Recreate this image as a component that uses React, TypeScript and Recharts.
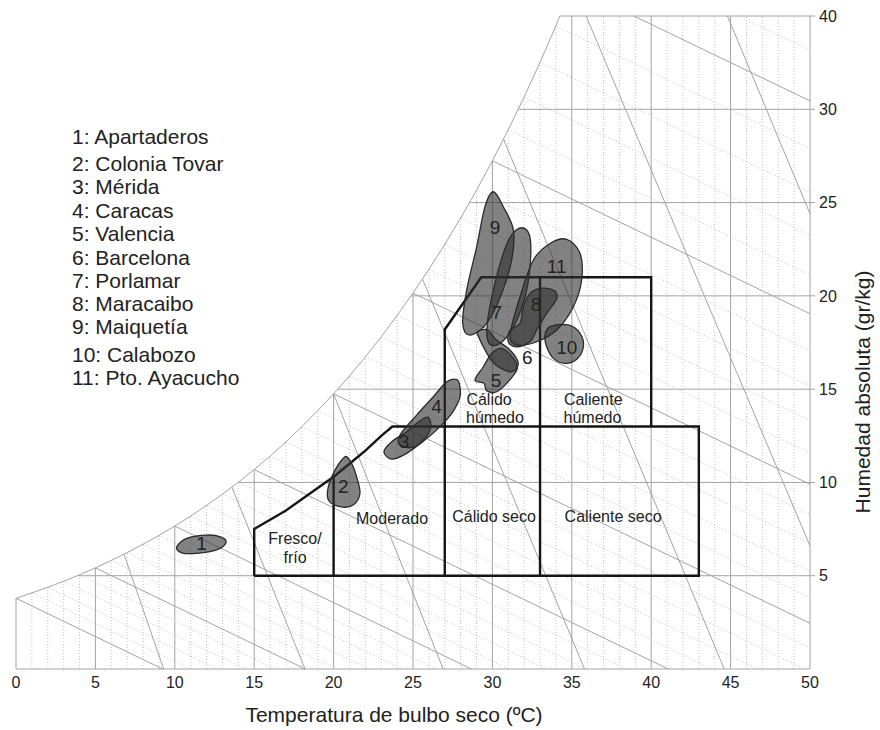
import React from 'react'
import { ComposedChart, XAxis, YAxis, Scatter, ReferenceLine } from 'recharts'

// Saturation curve (ºC -> g/kg)
const satTemps = [0, 1, 2, 3, 4, 5, 6, 7, 8, 9, 10, 11, 12, 13, 14, 15, 16, 17, 18, 19, 20, 21, 22, 23, 24, 25, 26, 27, 28, 29, 30, 31, 32, 33, 34, 35, 36]
const satHumidity = [3.79, 4.08, 4.38, 4.7, 5.05, 5.42, 5.82, 6.24, 6.69, 7.16, 7.66, 8.2, 8.77, 9.37, 10.01, 10.69, 11.41, 12.17, 12.99, 13.85, 14.75, 15.71, 16.73, 17.81, 18.95, 20.15, 21.42, 22.76, 24.17, 25.66, 27.24, 28.91, 30.66, 32.52, 34.47, 36.6, 38.9]

const xTicks = [0, 5, 10, 15, 20, 25, 30, 35, 40, 45, 50]
const yTicks = [5, 10, 15, 20, 25, 30, 35]
const yTickLabels = ['5', '10', '15', '20', '25', '30', '40']

// wet bulb lines drop about 0.41 g/kg per ºC
const wetBulbSlope = 0.41
const wetBulbTemps = [0, 1, 2, 3, 4, 5, 6, 7, 8, 9, 10, 11, 12, 13, 14, 15, 16, 17, 18, 19, 20, 21, 22, 23, 24, 25, 26, 27, 28, 29, 30, 31, 32, 33, 34, 35, 36]

// specific volume lines: [t1, h1, t2, h2]
const volumeLines = [
  [6.8, 6.15, 9.3, 0],
  [13.6, 9.75, 18.2, 0],
  [20.0, 14.75, 26.9, 0],
  [25.6, 20.9, 35.8, 0],
  [30.7, 28.4, 44.6, 0],
  [35.9, 35, 50, 6.6],
  [44.8, 35, 50, 24.4],
]

// comfort zones (black outlines)
const zoneOuter = [[15, 5], [15, 7.5], [16, 8.0], [17, 8.5], [18, 9.1], [19, 9.7], [20, 10.3], [21, 11.0], [22, 11.7], [23, 12.5], [23.7, 13.0], [43, 13], [43, 5], [15, 5]]
const zoneModerado = [[20, 5], [20, 10.3]]
const zoneCalido = [[27, 5], [27, 18.2], [29.3, 21], [40, 21], [40, 13]]
const zoneCaliente = [[33, 5], [33, 21]]

const zoneLabels = [
  { x: 23.68, y: 8.09, label: 'Moderado' },
  { x: 17.57, y: 6.97, label: 'Fresco/' },
  { x: 17.57, y: 6.0, label: 'frío' },
  { x: 30.1, y: 8.15, label: 'Cálido seco' },
  { x: 37.6, y: 8.15, label: 'Caliente seco' },
  { x: 29.79, y: 14.47, label: 'Cálido' },
  { x: 30.16, y: 13.5, label: 'húmedo' },
  { x: 36.35, y: 14.47, label: 'Caliente' },
  { x: 36.3, y: 13.5, label: 'húmedo' },
]

// climate areas of each city
const blob1 = [[10.12, 6.55], [10.75, 7.0], [12.01, 7.18], [12.95, 7.06], [13.22, 6.77], [12.64, 6.38], [11.38, 6.2], [10.43, 6.23]]
const blob2 = [[20.82, 11.38], [21.2, 10.9], [21.45, 10.3], [21.66, 9.42], [21.24, 8.79], [20.4, 8.7], [19.67, 9.06], [19.67, 9.77], [20.09, 10.66], [20.51, 11.2]]
const blob3 = [[25.96, 13.49], [26.11, 12.9], [25.55, 12.18], [24.6, 11.56], [23.66, 11.25], [23.17, 11.65], [23.66, 12.18], [24.6, 12.72], [25.44, 13.31]]
const blob4 = [[27.33, 15.49], [27.85, 15.45], [27.96, 14.59], [27.44, 13.7], [26.7, 12.99], [25.86, 12.35], [25.02, 11.88], [24.18, 12.0], [24.18, 12.54], [25.23, 13.61], [26.28, 14.59], [26.91, 15.22]]
const blob5 = [[28.9, 15.49], [29.43, 16.2], [29.96, 16.92], [30.58, 17.18], [31.32, 16.65], [31.57, 16.11], [31.0, 15.4], [30.27, 14.86], [29.64, 14.91], [29.47, 15.31]]
const blob6 = [[29.05, 18.08], [29.68, 18.17], [30.27, 17.63], [31.11, 17.1], [31.63, 16.38], [31.21, 15.93], [30.37, 16.2], [29.85, 16.65], [29.43, 17.27], [29.18, 17.72]]
const blob7 = [[31.84, 23.65], [32.33, 23.26], [32.41, 22.1], [32.16, 20.31], [31.63, 18.88], [31.0, 17.9], [30.27, 17.36], [29.74, 17.54], [29.68, 18.53], [30.06, 20.31], [30.69, 22.28], [31.21, 23.26]]
const blob8 = [[33.0, 20.4], [33.84, 20.31], [34.05, 19.86], [33.42, 19.06], [32.79, 18.17], [32.37, 17.54], [31.53, 17.27], [31.0, 17.54], [31.11, 18.17], [31.74, 18.53], [31.95, 19.42], [32.37, 20.13]]
const blob9 = [[30.06, 25.58], [30.69, 24.77], [31.32, 23.53], [31.21, 21.92], [30.58, 20.13], [29.64, 18.53], [28.59, 17.9], [28.13, 18.53], [28.38, 20.31], [29.01, 22.63], [29.53, 24.77]]
const blob10 = [[33.63, 18.35], [34.78, 18.44], [35.52, 17.99], [35.73, 17.27], [35.31, 16.6], [34.57, 16.38], [33.84, 16.65], [33.42, 17.27], [33.31, 17.9]]
const blob11 = [[34.68, 23.03], [35.52, 22.28], [35.62, 20.85], [35.1, 19.42], [34.05, 18.17], [32.79, 17.54], [31.53, 17.36], [31.11, 17.9], [31.74, 19.95], [32.58, 21.92], [33.63, 22.81]]
const blobs = [blob1, blob2, blob3, blob4, blob5, blob6, blob7, blob8, blob9, blob10, blob11]

const blobLabels = [
  { x: 11.69, y: 6.7, label: '1' },
  { x: 20.61, y: 9.77, label: '2' },
  { x: 24.43, y: 12.22, label: '3' },
  { x: 26.49, y: 14.06, label: '4' },
  { x: 30.23, y: 15.49, label: '5' },
  { x: 32.2, y: 16.7, label: '6' },
  { x: 30.27, y: 19.12, label: '7' },
  { x: 32.75, y: 19.56, label: '8' },
  { x: 30.16, y: 23.67, label: '9' },
  { x: 34.68, y: 17.24, label: '10' },
  { x: 34.05, y: 21.6, label: '11' },
]

const cities = ['1: Apartaderos', '2: Colonia Tovar', '3: Mérida', '4: Caracas', '5: Valencia', '6: Barcelona', '7: Porlamar', '8: Maracaibo', '9: Maiquetía', '10: Calabozo', '11: Pto. Ayacucho']
const cityRowY = [144, 171, 194, 218, 241, 265, 288, 311, 334, 362, 385]

const T_MAX = 50
const H_MAX = 35
const FONT = '"Liberation Sans", Arial, sans-serif'
const GRID = '#a3a3a3'
const DOTS = '#c4c4c4'

function satAt(t: number) {
  for (let i = 0; i < satTemps.length - 1; i++) {
    if (t <= satTemps[i + 1]) {
      const f = (t - satTemps[i]) / (satTemps[i + 1] - satTemps[i])
      return satHumidity[i] + f * (satHumidity[i + 1] - satHumidity[i])
    }
  }
  return satHumidity[satHumidity.length - 1]
}

function satTempAt(h: number) {
  if (h <= satHumidity[0]) return 0
  for (let i = 0; i < satHumidity.length - 1; i++) {
    if (h <= satHumidity[i + 1]) {
      const f = (h - satHumidity[i]) / (satHumidity[i + 1] - satHumidity[i])
      return satTemps[i] + f * (satTemps[i + 1] - satTemps[i])
    }
  }
  return satTemps[satTemps.length - 1]
}

const tTop = satTempAt(H_MAX)
const satCurve = satTemps.filter((t) => t < tTop).map((t) => ({ x: t, y: satAt(t) })).concat([{ x: tTop, y: H_MAX }])

const toPts = (arr: number[][]) => arr.map(([x, y]) => ({ x, y }))

function blobPath(pts: { x: number; y: number }[]) {
  const n = pts.length
  let d = `M${pts[0].x},${pts[0].y}`
  for (let i = 0; i < n; i++) {
    const p0 = pts[(i - 1 + n) % n]
    const p1 = pts[i]
    const p2 = pts[(i + 1) % n]
    const p3 = pts[(i + 2) % n]
    d += `C${p1.x + (p2.x - p0.x) / 6},${p1.y + (p2.y - p0.y) / 6} ${p2.x - (p3.x - p1.x) / 6},${p2.y - (p3.y - p1.y) / 6} ${p2.x},${p2.y}`
  }
  return d + 'Z'
}

const noDot = () => <g />

export default function App() {
  // vertical lines every ºC, solid every 5
  const verticals = Array.from({ length: T_MAX + 1 }, (_, t) => t).map((t) => (
    <ReferenceLine
      key={`v${t}`}
      segment={[{ x: t, y: 0 }, { x: t, y: t < tTop ? satAt(t) : H_MAX }]}
      stroke={t % 5 === 0 ? GRID : DOTS}
      strokeDasharray={t % 5 === 0 ? undefined : '1 2'}
      strokeWidth={1}
    />
  ))

  const horizontals = [0, ...yTicks].map((h) => (
    <ReferenceLine key={`h${h}`} segment={[{ x: h === 0 ? 0 : satTempAt(h), y: h }, { x: T_MAX, y: h }]} stroke={GRID} strokeWidth={1} />
  ))

  const wetBulbs = wetBulbTemps.map((wb) => {
    const hs = satAt(wb)
    const start = hs <= H_MAX ? { x: wb, y: hs } : { x: wb + (hs - H_MAX) / wetBulbSlope, y: H_MAX }
    if (start.x >= T_MAX) return null
    const tZero = wb + hs / wetBulbSlope
    const end = tZero <= T_MAX ? { x: tZero, y: 0 } : { x: T_MAX, y: hs - wetBulbSlope * (T_MAX - wb) }
    const solid = wb % 5 === 0
    return (
      <ReferenceLine
        key={`wb${wb}`}
        segment={[start, end]}
        stroke={solid ? GRID : DOTS}
        strokeDasharray={solid ? undefined : '1 2'}
        strokeWidth={1}
      />
    )
  })

  const volumes = volumeLines.map(([t1, h1, t2, h2], i) => (
    <ReferenceLine key={`vol${i}`} segment={[{ x: t1, y: h1 }, { x: t2, y: h2 }]} stroke={GRID} strokeWidth={1} />
  ))

  const zones = [zoneOuter, zoneModerado, zoneCalido, zoneCaliente].map((z, i) => (
    <Scatter
      key={`zone${i}`}
      data={toPts(z)}
      line={{ stroke: '#151515', strokeWidth: 2.4, fill: 'none' }}
      lineType="joint"
      shape={noDot}
      isAnimationActive={false}
    />
  ))

  const blobItems = blobs.map((b, i) => (
    <Scatter
      key={`blob${i}`}
      data={toPts(b)}
      line={(p: any) => (
        <path d={blobPath(p.points)} fill="#2e2e2e" fillOpacity={0.6} stroke="#2a2a2a" strokeWidth={1.3} />
      )}
      lineType="joint"
      shape={noDot}
      isAnimationActive={false}
    />
  ))

  const textShape = (size: number) => (p: any) => (
    <text x={p.cx} y={p.cy} textAnchor="middle" dominantBaseline="central" fontSize={size} fill="#222" fontFamily={FONT}>
      {p.payload?.label ?? p.label}
    </text>
  )

  return (
    <div style={{ position: 'absolute', left: 0, top: 0, width: 880, height: 730, background: '#fff', fontFamily: FONT }}>
      <ComposedChart width={880} height={730} margin={{ top: 16, right: 20, bottom: 11, left: 16 }}>
        <XAxis
          type="number"
          dataKey="x"
          domain={[0, T_MAX]}
          ticks={xTicks}
          interval={0}
          axisLine={false}
          tickLine={false}
          tickSize={6}
          tick={{ fontSize: 16, fill: '#222', fontFamily: FONT }}
          height={50}
        />
        <YAxis
          type="number"
          dataKey="y"
          orientation="right"
          domain={[0, H_MAX]}
          ticks={yTicks}
          interval={0}
          tickFormatter={(v: number) => yTickLabels[yTicks.indexOf(v)] ?? ''}
          axisLine={false}
          tickLine={{ stroke: GRID }}
          tickSize={5}
          tickMargin={4}
          tick={{ fontSize: 16, fill: '#222', fontFamily: FONT }}
          width={50}
        />
        {verticals}
        {horizontals}
        {wetBulbs}
        {volumes}
        <Scatter data={satCurve} line={{ stroke: GRID, strokeWidth: 1, fill: 'none' }} lineType="joint" shape={noDot} isAnimationActive={false} />
        {zones}
        {blobItems}
        <Scatter data={zoneLabels} shape={textShape(16)} isAnimationActive={false} />
        <Scatter data={blobLabels} shape={textShape(19)} isAnimationActive={false} />
      </ComposedChart>
      <svg width={880} height={730} style={{ position: 'absolute', left: 0, top: 0, pointerEvents: 'none' }}>
        {cities.map((c, i) => (
          <text key={c} x={72} y={cityRowY[i]} fontSize={21} fill="#222" fontFamily={FONT}>
            {c}
          </text>
        ))}
        <text x={394} y={722} textAnchor="middle" fontSize={21} fill="#222" fontFamily={FONT}>
          Temperatura de bulbo seco (ºC)
        </text>
        <text x={870} y={392} textAnchor="middle" fontSize={21} fill="#222" fontFamily={FONT} transform="rotate(-90 870 392)">
          Humedad absoluta (gr/kg)
        </text>
      </svg>
    </div>
  )
}
